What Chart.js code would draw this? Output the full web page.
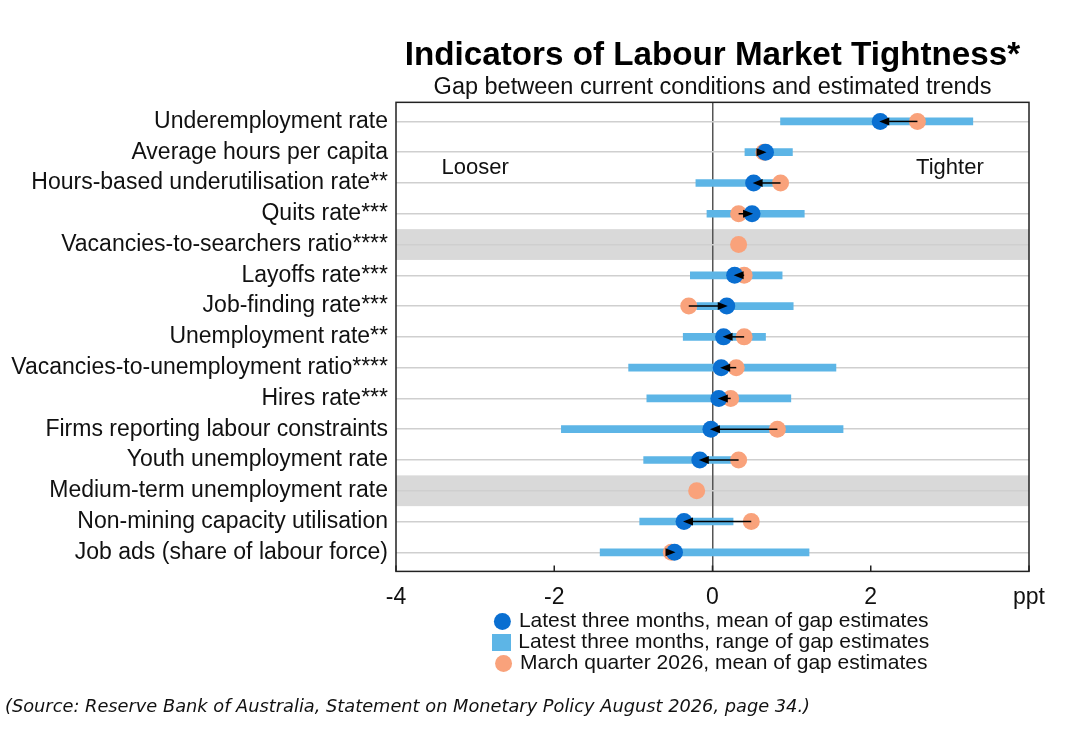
<!DOCTYPE html>
<html>
<head>
<meta charset="utf-8">
<title>Indicators of Labour Market Tightness</title>
<script src="https://cdn.jsdelivr.net/npm/chart.js@4.4.1/dist/chart.umd.min.js"></script>
<style>
  html, body { margin: 0; padding: 0; background: #fff; }
  #wrap { width: 1080px; height: 731px; position: relative; }
</style>
</head>
<body>
<div id="wrap"><canvas id="tightnessChart"></canvas></div>
<script>
// Rows, top to bottom
const categories = [
    'Underemployment rate',
    'Average hours per capita',
    'Hours-based underutilisation rate**',
    'Quits rate***',
    'Vacancies-to-searchers ratio****',
    'Layoffs rate***',
    'Job-finding rate***',
    'Unemployment rate**',
    'Vacancies-to-unemployment ratio****',
    'Hires rate***',
    'Firms reporting labour constraints',
    'Youth unemployment rate',
    'Medium-term unemployment rate',
    'Non-mining capacity utilisation',
    'Job ads (share of labour force)'
];

// Latest three months, range of gap estimates (ppt)
const rangeLow  = [0.86, 0.41, -0.21, -0.07, null, -0.28, -0.20, -0.37, -1.06, -0.83, -1.91, -0.87, null, -0.92, -1.42];
const rangeHigh = [3.29, 1.01,  0.78,  1.16, null,  0.88,  1.02,  0.67,  1.56,  0.99,  1.65,  0.30, null,  0.26,  1.22];

// Latest three months, mean of gap estimates (ppt)
const latestMean = [2.12, 0.67, 0.52, 0.50, null, 0.28, 0.18, 0.14, 0.11, 0.08, -0.02, -0.16, null, -0.36, -0.48];

// March quarter 2026, mean of gap estimates (ppt)
const marchMean = [2.59, 0.65, 0.86, 0.33, 0.33, 0.40, -0.30, 0.40, 0.30, 0.23, 0.82, 0.33, -0.20, 0.49, -0.52];

// x axis ticks
const xTickValues = [-4, -2, 0, 2, 4];
const xTickLabels = ['-4', '-2', '0', '2', 'ppt'];

const seriesLabels = [
    'Latest three months, mean of gap estimates',
    'Latest three months, range of gap estimates',
    'March quarter 2026, mean of gap estimates'
];

const colors = {
    latest: '#0a6fd1',
    range: '#5db5e6',
    march: '#f9a27b',
    band: '#d9d9d9',
    grid: '#cfcfcf',
    text: '#111111'
};

const FONT = "'Liberation Sans', Arial, sans-serif";

// Square swatch for the range entry in the legend
const rangeSwatch = document.createElement('canvas');
rangeSwatch.width = 19;
rangeSwatch.height = 17;
const swCtx = rangeSwatch.getContext('2d');
swCtx.fillStyle = colors.range;
swCtx.fillRect(0, 0, 19, 17);

// Shaded rows (no range estimates)
const bandsPlugin = {
    id: 'bands',
    beforeDraw(chart) {
        const { ctx, chartArea, scales: { y } } = chart;
        ctx.save();
        ctx.fillStyle = colors.band;
        rangeLow.forEach((v, i) => {
            if (v !== null) return;
            const a = y.getPixelForValue(i - 0.5);
            const b = y.getPixelForValue(i + 0.5);
            ctx.fillRect(chartArea.left, Math.min(a, b), chartArea.right - chartArea.left, Math.abs(b - a));
        });
        ctx.restore();
    }
};

// Arrows from March quarter mean to latest mean
const arrowsPlugin = {
    id: 'arrows',
    afterDatasetsDraw(chart) {
        const { ctx, scales: { x, y } } = chart;
        ctx.save();
        ctx.strokeStyle = '#000';
        ctx.fillStyle = '#000';
        ctx.lineWidth = 1.5;
        marchMean.forEach((from, i) => {
            const to = latestMean[i];
            if (from === null || to === null) return;
            const x0 = x.getPixelForValue(from);
            const x1 = x.getPixelForValue(to);
            const yy = y.getPixelForValue(i);
            const dir = Math.sign(x1 - x0) || 1;
            ctx.beginPath();
            ctx.moveTo(x0, yy);
            ctx.lineTo(x1 - dir * 6, yy);
            ctx.stroke();
            ctx.beginPath();
            ctx.moveTo(x1 + dir * 1, yy);
            ctx.lineTo(x1 - dir * 9, yy - 4);
            ctx.lineTo(x1 - dir * 9, yy + 4);
            ctx.closePath();
            ctx.fill();
        });

        // Looser / Tighter notes
        ctx.fillStyle = colors.text;
        ctx.font = '22px ' + FONT;
        ctx.textAlign = 'center';
        ctx.textBaseline = 'middle';
        ctx.fillText('Looser', x.getPixelForValue(-3), y.getPixelForValue(1.5));
        ctx.fillText('Tighter', x.getPixelForValue(3), y.getPixelForValue(1.5));
        ctx.restore();
    },
    afterDraw(chart) {
        const { ctx, chartArea, scales: { x } } = chart;
        ctx.save();
        ctx.strokeStyle = '#222';
        ctx.lineWidth = 1.5;
        ctx.strokeRect(chartArea.left, chartArea.top, chartArea.right - chartArea.left, chartArea.bottom - chartArea.top);
        // small inward tick marks on the bottom axis
        ctx.beginPath();
        xTickValues.forEach(v => {
            const px = x.getPixelForValue(v);
            ctx.moveTo(px, chartArea.bottom);
            ctx.lineTo(px, chartArea.bottom - 6);
        });
        ctx.stroke();

        // source note
        ctx.fillStyle = '#111';
        ctx.font = "italic 17.8px 'DejaVu Sans', sans-serif";
        ctx.textAlign = 'left';
        ctx.textBaseline = 'middle';
        ctx.fillText('(Source: Reserve Bank of Australia, Statement on Monetary Policy August 2026, page 34.)', 5, 707);
        ctx.restore();
    }
};

const ctx = document.getElementById('tightnessChart').getContext('2d');

const chart = new Chart(ctx, {
    type: 'bar',
    data: {
        datasets: [
            {
                type: 'scatter',
                label: seriesLabels[0],
                data: latestMean.map((v, i) => v === null ? null : { x: v, y: i }).filter(Boolean),
                backgroundColor: colors.latest,
                borderColor: colors.latest,
                pointBackgroundColor: colors.latest,
                pointRadius: 8.5,
                pointHoverRadius: 8.5,
                pointBorderWidth: 0,
                pointStyle: 'circle',
                order: 0
            },
            {
                type: 'bar',
                label: seriesLabels[1],
                indexAxis: 'y',
                data: rangeLow.map((v, i) => v === null ? null : { x: [v, rangeHigh[i]], y: i }).filter(Boolean),
                backgroundColor: colors.range,
                borderWidth: 0,
                barThickness: 7,
                pointStyle: rangeSwatch,
                order: 2
            },
            {
                type: 'scatter',
                label: seriesLabels[2],
                data: marchMean.map((v, i) => v === null ? null : { x: v, y: i }).filter(Boolean),
                backgroundColor: colors.march,
                borderColor: colors.march,
                pointBackgroundColor: colors.march,
                pointRadius: 8.5,
                pointHoverRadius: 8.5,
                pointBorderWidth: 0,
                pointStyle: 'circle',
                order: 1
            }
        ]
    },
    options: {
        responsive: true,
        maintainAspectRatio: false,
        animation: false,
        layout: {
            padding: { left: 0, right: 51, top: 0, bottom: 47 }
        },
        scales: {
            x: {
                type: 'linear',
                position: 'bottom',
                min: -4,
                max: 4,
                offset: false,
                afterFit: scale => { scale.height = scale.height - 12; },
                ticks: {
                    stepSize: 2,
                    padding: 12,
                    color: colors.text,
                    font: { family: FONT, size: 23 },
                    callback: v => {
                        const k = xTickValues.indexOf(v);
                        return k === -1 ? '' : xTickLabels[k];
                    }
                },
                grid: {
                    offset: false,
                    drawTicks: false,
                    lineWidth: 1.5,
                    color: c => (c.tick && c.tick.value === 0) ? '#555' : 'rgba(0,0,0,0)'
                },
                border: { display: false }
            },
            y: {
                type: 'linear',
                reverse: true,
                min: -0.62,
                max: 14.62,
                offset: false,
                afterFit: scale => { scale.width = 396; },
                ticks: {
                    stepSize: 1,
                    includeBounds: false,
                    autoSkip: false,
                    maxTicksLimit: 30,
                    padding: 8,
                    color: colors.text,
                    font: { family: FONT, size: 23 },
                    callback: v => Number.isInteger(v) && categories[v] ? categories[v] : ''
                },
                grid: {
                    offset: false,
                    drawTicks: false,
                    lineWidth: 1.5,
                    color: colors.grid
                },
                border: { display: false }
            }
        },
        plugins: {
            title: {
                display: true,
                text: 'Indicators of Labour Market Tightness*',
                fullSize: false,
                color: '#000',
                font: { family: FONT, size: 33.2, weight: 'bold', lineHeight: 1.2 },
                padding: { top: 36, bottom: 0 }
            },
            subtitle: {
                display: true,
                text: 'Gap between current conditions and estimated trends',
                fullSize: false,
                color: colors.text,
                font: { family: FONT, size: 23.5, lineHeight: 1 },
                padding: { top: 0, bottom: 3 }
            },
            legend: {
                display: true,
                position: 'bottom',
                fullSize: false,
                align: 'center',
                labels: {
                    usePointStyle: true,
                    boxWidth: 12,
                    boxHeight: 12,
                    padding: 0,
                    color: colors.text,
                    font: { family: FONT, size: 21 },
                    sort: (a, b) => a.datasetIndex - b.datasetIndex
                }
            },
            tooltip: { enabled: false }
        }
    },
    plugins: [bandsPlugin, arrowsPlugin]
});
</script>
</body>
</html>
